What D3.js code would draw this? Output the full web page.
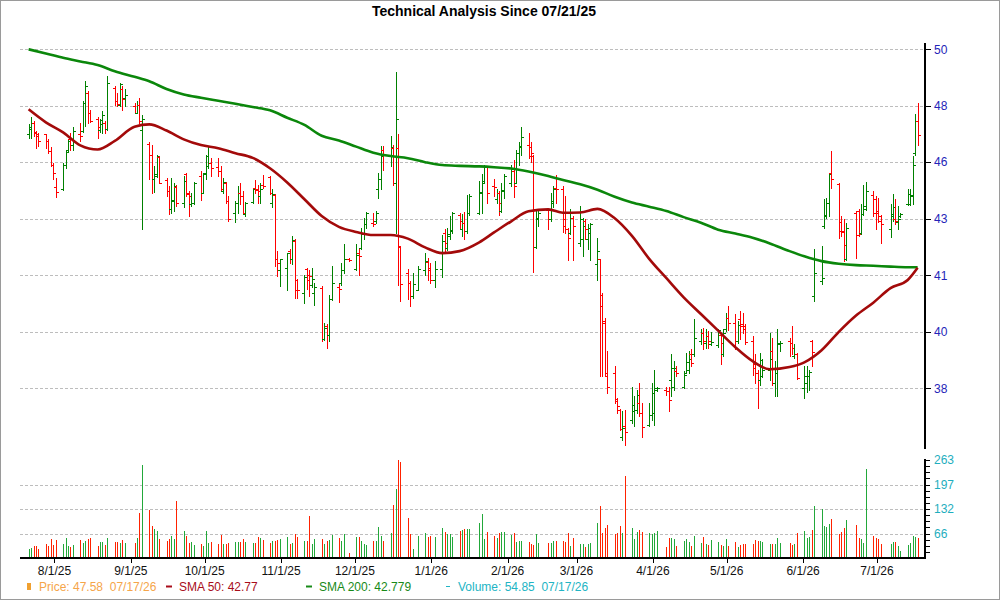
<!DOCTYPE html>
<html>
<head>
<meta charset="utf-8">
<script src="https://cdn.jsdelivr.net/npm/d3@7"></script>
<style>
  body { margin: 0; background: #fff; }
  text { font-family: "Liberation Sans", Arial, sans-serif; }
</style>
</head>
<body>
<svg id="chart" width="1000" height="600"></svg>
<script>
// trading calendar: weekdays between these dates, minus market holidays
var firstDay = "2025-07-21",
    lastDay = "2026-07-17";
var holidays = ["2025-09-01", "2025-11-27", "2025-12-25", "2026-01-01", "2026-01-19",
                "2026-02-16", "2026-04-03", "2026-05-25", "2026-06-19", "2026-07-03"];

// one line per week
var opens = [
  46.62, 46.79, 47.05, 46.69, 46.53,
  46.60, 46.34, 45.95, 45.43, 44.60,
  44.52, 45.43, 46.01, 46.40, 46.17,
  46.60, 46.73, 47.83, 48.23, 47.41,
  47.18, 46.76, 46.99, 47.05, 46.81,
  48.43, 47.90, 47.76, 48.37, 48.03,
  47.72, 47.44, 47.76, 46.76,
  46.24, 45.82, 44.88, 45.07, 45.72,
  44.86, 44.45, 43.78, 44.09, 44.61,
  44.03, 45.07, 44.39, 43.97, 44.03,
  45.00, 44.39, 45.13, 45.37, 45.49,
  45.33, 45.19, 44.45, 44.76, 44.09,
  43.66, 44.03, 44.39, 44.27, 43.60,
  44.06, 44.58, 44.52, 44.27, 44.66,
  44.98, 44.03, 44.30, 42.00, 41.64,
  41.70, 42.29, 42.00, 42.65, 41.29,
  40.85, 41.66, 41.46, 41.13, 40.85,
  41.01, 39.32, 39.74, 39.46, 40.65,
  41.05, 41.18, 41.64, 42.02,
  41.66, 42.23, 42.41, 42.94, 43.24,
  43.30, 43.36, 44.52, 44.88, 46.01,
  45.75, 46.07, 44.76, 46.07, 42.45,
  41.52, 41.20, 40.74, 40.96,
  41.64, 41.91, 41.70, 41.29,
  41.66, 42.94, 42.41, 42.88, 43.00,
  43.56, 43.06, 43.30, 43.00, 43.66,
  43.66, 44.39, 44.76, 45.37,
  44.64, 44.15, 44.37, 43.72, 44.45,
  44.76, 45.19, 44.76, 45.88, 46.14,
  46.17, 46.12, 45.75, 42.45, 43.42,
  43.76, 43.42, 44.03, 44.58,
  44.54, 43.42, 43.06, 42.94, 43.48,
  42.59, 42.71, 43.36, 42.71, 42.94,
  41.85, 42.00, 40.79, 39.85, 38.12,
  38.23, 37.40, 37.08, 36.26, 36.57,
  36.77, 37.03, 37.06, 37.28, 36.98,
  36.62, 36.92, 36.98, 37.69,
  37.69, 37.64, 38.01, 37.79, 38.28,
  37.79, 38.23, 38.33, 38.82, 38.82,
  39.25, 39.52, 39.19, 39.41, 39.14,
  39.11, 39.46, 38.82, 39.63, 40.02,
  39.85, 39.25, 39.98, 39.80, 39.63,
  39.25, 38.50, 38.23, 38.01, 38.14,
  38.33, 38.93, 37.90, 38.23, 39.14,
  39.25, 39.19, 38.76, 38.82,
  37.74, 37.90, 38.12, 39.25, 40.76,
  41.24, 43.18, 43.54, 44.03, 45.13,
  44.70, 43.32, 43.00, 42.00,
  43.66, 43.72, 42.94, 43.60, 43.78,
  44.30, 44.15, 43.72, 43.54,
  43.08, 43.54, 43.42, 43.32, 43.54,
  43.99, 43.97, 44.27, 45.86, 47.12
];
var highs = [
  46.99, 47.25, 47.12, 46.73, 46.66,
  46.62, 46.40, 46.12, 45.49, 44.94,
  45.49, 45.95, 46.43, 46.66, 46.86,
  47.05, 47.90, 48.70, 48.30, 47.53,
  47.28, 47.20, 47.50, 47.12, 48.90,
  48.50, 48.23, 48.63, 48.50, 48.37,
  47.83, 47.92, 48.03, 47.34,
  46.30, 46.20, 45.37, 45.82, 45.75,
  44.94, 44.64, 44.94, 44.76, 44.66,
  45.00, 45.13, 44.45, 44.39, 44.78,
  45.19, 45.13, 45.82, 46.14, 45.68,
  45.68, 45.37, 44.94, 44.78, 44.27,
  44.09, 44.64, 44.76, 44.45, 44.06,
  44.54, 44.85, 44.66, 44.76, 45.03,
  45.00, 44.54, 44.33, 42.29, 42.02,
  42.23, 42.37, 42.82, 42.71, 41.32,
  41.46, 41.70, 41.64, 41.70, 41.20,
  41.09, 39.85, 39.80, 40.79, 41.76,
  41.20, 41.88, 42.53, 42.05,
  42.53, 42.35, 43.12, 43.48, 43.69,
  43.64, 43.72, 45.13, 46.14, 46.14,
  46.53, 46.17, 49.08, 46.62, 42.47,
  41.66, 41.24, 41.52, 41.76,
  42.21, 42.05, 41.88, 41.94,
  42.85, 43.06, 43.12, 43.54, 43.69,
  43.66, 43.60, 43.69, 44.29, 44.33,
  44.82, 45.07, 45.43, 45.40,
  44.91, 44.52, 44.45, 44.76, 45.07,
  45.43, 45.62, 46.01, 46.30, 46.86,
  46.66, 46.30, 45.82, 43.78, 43.81,
  43.78, 44.39, 44.64, 45.03,
  44.64, 44.27, 43.12, 43.78, 43.54,
  43.91, 43.48, 43.42, 43.24, 43.30,
  42.76, 42.02, 40.85, 40.02, 38.93,
  38.44, 37.43, 37.10, 37.03, 37.08,
  37.79, 37.49, 37.69, 37.90, 37.28,
  37.28, 37.90, 38.33, 37.79,
  37.79, 37.79, 38.82, 38.60, 38.44,
  38.28, 38.87, 38.93, 38.98, 39.96,
  39.65, 39.69, 39.63, 39.58, 39.54,
  39.65, 39.52, 39.63, 40.18, 40.41,
  40.13, 39.91, 40.24, 40.18, 39.80,
  39.41, 38.82, 38.33, 38.87, 38.66,
  39.50, 39.36, 38.60, 39.63, 39.25,
  39.36, 39.74, 39.14, 38.87,
  38.46, 38.44, 38.33, 39.28, 42.37,
  42.47, 44.15, 44.21, 45.13, 45.95,
  44.74, 43.54, 43.42, 43.30,
  43.72, 43.78, 43.97, 44.66, 44.78,
  44.45, 44.27, 44.21, 43.56,
  43.97, 44.33, 44.17, 43.91, 43.66,
  44.54, 44.54, 45.75, 47.37, 47.83
];
var lows = [
  46.44, 46.44, 46.53, 46.07, 46.14,
  46.07, 45.88, 45.37, 44.88, 44.25,
  44.49, 45.31, 45.95, 45.98, 46.01,
  46.34, 46.70, 46.92, 47.05, 47.07,
  46.47, 46.69, 46.64, 46.64, 46.76,
  47.76, 47.72, 47.70, 47.54, 47.70,
  47.41, 47.41, 47.05, 43.06,
  44.88, 44.39, 44.42, 44.98, 44.74,
  44.27, 43.60, 43.66, 43.72, 43.91,
  43.85, 44.27, 43.54, 43.91, 43.97,
  44.13, 44.37, 44.91, 45.31, 45.00,
  45.00, 44.45, 44.37, 44.03, 43.36,
  43.32, 43.66, 43.97, 43.60, 43.54,
  44.00, 44.37, 44.00, 44.03, 44.58,
  44.33, 43.88, 41.76, 41.41, 41.07,
  40.96, 41.88, 41.85, 40.68, 40.68,
  40.52, 40.98, 40.76, 41.05, 40.44,
  39.25, 39.28, 39.03, 39.25, 40.61,
  40.54, 41.13, 41.52, 41.94,
  41.64, 41.46, 42.35, 42.71, 43.12,
  43.18, 43.30, 44.21, 44.54, 45.25,
  45.40, 44.67, 42.94, 41.13, 40.57,
  40.63, 40.41, 40.68, 40.94,
  41.46, 41.29, 41.20, 41.05,
  41.38, 42.23, 42.33, 42.71, 42.94,
  43.06, 42.82, 42.73, 42.94, 43.56,
  43.60, 43.66, 44.74, 44.03,
  44.27, 44.03, 43.57, 43.69, 44.18,
  44.64, 44.25, 44.74, 45.43, 45.82,
  45.68, 45.52, 41.58, 42.41, 43.18,
  43.08, 43.36, 43.85, 44.03,
  42.96, 42.94, 41.97, 42.88, 41.97,
  42.47, 42.11, 42.71, 42.35, 41.97,
  41.29, 38.12, 38.12, 38.12, 37.59,
  37.28, 36.98, 36.47, 36.16, 36.01,
  36.67, 36.57, 36.98, 36.87, 36.26,
  36.57, 36.77, 36.62, 37.64,
  37.54, 37.03, 37.49, 37.69, 38.12,
  37.74, 38.21, 38.23, 38.46, 38.76,
  39.14, 38.98, 39.03, 39.03, 39.11,
  39.06, 38.50, 38.76, 39.58, 39.61,
  38.98, 39.17, 39.30, 39.50, 39.14,
  38.17, 37.90, 37.13, 37.85, 38.10,
  38.01, 37.85, 37.49, 37.51, 38.93,
  38.76, 38.82, 38.71, 38.03,
  37.43, 37.61, 37.69, 38.46, 40.57,
  41.16, 43.12, 43.48, 43.54, 44.58,
  42.76, 42.82, 41.94, 41.97,
  42.05, 42.82, 42.88, 43.56, 43.76,
  43.54, 43.06, 43.32, 42.59,
  42.80, 43.36, 43.24, 43.06, 43.51,
  43.94, 43.93, 43.97, 45.82, 46.20
];
var closes = [
  46.86, 47.05, 46.66, 46.60, 46.34,
  46.34, 45.95, 45.43, 45.13, 44.43,
  45.43, 45.91, 46.34, 46.17, 46.73,
  46.53, 47.83, 48.50, 47.41, 47.12,
  46.86, 47.15, 47.33, 46.81, 48.61,
  47.90, 47.80, 48.59, 47.99, 48.13,
  47.44, 47.76, 47.12, 47.18,
  45.82, 44.88, 45.00, 45.75, 44.76,
  44.45, 43.78, 44.13, 44.64, 44.03,
  44.82, 44.33, 44.27, 44.03, 44.76,
  44.39, 45.10, 45.75, 45.49, 45.31,
  45.19, 44.52, 44.78, 44.09, 43.42,
  44.00, 44.37, 44.27, 43.66, 44.03,
  44.52, 44.49, 44.45, 44.52, 44.64,
  44.39, 44.33, 42.00, 41.88, 42.00,
  42.21, 42.00, 42.68, 40.96, 40.96,
  41.38, 41.29, 41.41, 41.32, 41.05,
  39.32, 39.69, 39.46, 40.65, 41.18,
  40.98, 41.64, 42.00, 41.97,
  42.17, 42.11, 42.88, 43.24, 43.64,
  43.26, 43.64, 44.88, 45.75, 45.82,
  46.12, 44.74, 47.20, 42.47, 41.16,
  41.20, 40.74, 41.16, 41.66,
  41.94, 41.64, 41.29, 41.66,
  42.65, 42.59, 42.82, 43.04, 43.66,
  43.36, 43.30, 43.00, 43.66, 44.27,
  44.42, 44.82, 45.37, 44.37,
  44.61, 44.37, 44.03, 44.49, 45.00,
  45.28, 44.64, 45.88, 46.12, 46.50,
  45.75, 45.88, 43.78, 43.48, 43.66,
  43.42, 44.07, 44.54, 44.54,
  43.18, 43.06, 42.76, 43.48, 43.18,
  43.42, 43.18, 43.06, 43.12, 43.24,
  42.29, 40.41, 39.91, 38.23, 37.79,
  37.33, 37.18, 36.49, 36.52, 36.41,
  37.23, 37.08, 37.54, 36.98, 36.55,
  36.92, 37.59, 37.74, 37.74,
  37.64, 37.38, 38.39, 38.39, 38.23,
  38.17, 38.57, 38.66, 38.53, 39.36,
  39.52, 39.25, 39.41, 39.25, 39.22,
  39.61, 39.17, 39.52, 40.02, 39.85,
  39.25, 39.76, 39.74, 39.74, 39.22,
  38.39, 38.23, 37.99, 38.63, 38.33,
  38.66, 37.90, 38.23, 39.17, 39.19,
  39.19, 39.03, 38.82, 38.06,
  38.12, 38.14, 38.25, 38.89, 41.52,
  41.35, 43.56, 44.03, 45.10, 44.88,
  43.00, 42.96, 42.49, 43.12,
  42.85, 42.88, 43.60, 43.91, 44.45,
  43.66, 43.66, 43.36, 43.27,
  43.60, 43.88, 43.36, 43.42, 43.60,
  44.33, 44.30, 45.43, 47.12, 46.56
];
var volumes = [
  24, 26, 33, 33, 24,
  38, 31, 50, 36, 47,
  38, 55, 33, 29, 35,
  47, 41, 45, 50, 55,
  33, 43, 43, 35, 55,
  43, 43, 41, 47, 41,
  41, 55, 121, 250,
  128, 86, 78, 72, 52,
  45, 52, 59, 52, 152,
  72, 59, 41, 43, 35,
  38, 33, 72, 41, 43,
  38, 62, 38, 38, 41,
  43, 43, 43, 50, 42,
  40, 40, 56, 54, 49,
  40, 45, 46, 47, 51,
  56, 38, 40, 64, 56,
  46, 46, 113, 38, 52,
  52, 38, 45, 49, 63,
  54, 46, 64, 13,
  56, 56, 45, 38, 36,
  46, 46, 83, 60, 45,
  67, 143, 186, 263, 257,
  107, 64, 24, 60,
  67, 56, 60, 56,
  80, 70, 64, 64, 56,
  73, 76, 79, 79, 78,
  94, 119, 52, 71,
  60, 55, 67, 70, 70,
  63, 67, 43, 46, 46,
  42, 38, 36, 64, 40,
  40, 40, 45, 46,
  46, 42, 67, 31, 54,
  38, 38, 29, 38, 40,
  94, 140, 67, 80, 88,
  64, 67, 85, 67, 221,
  80, 52, 69, 76, 70,
  67, 64, 67, 73,
  29, 54, 55, 51, 33,
  45, 52, 43, 31, 58,
  40, 56, 38, 34, 49,
  43, 34, 31, 52, 31,
  43, 29, 34, 38, 38,
  38, 49, 46, 45, 43,
  38, 38, 38, 54, 40,
  40, 36, 38, 67,
  73, 54, 56, 76, 140,
  131, 87, 82, 91, 104,
  64, 70, 80, 103,
  88, 54, 51, 40, 239,
  60, 54, 51, 38,
  38, 43, 43, 31, 18,
  36, 40, 58, 56, 54.85
];

// moving averages read at the first session of each week, plus the last session
var sma50 = [
  47.57, 47.06, 46.67, 46.17, 46.01, 46.34, 46.89, 46.98, 46.74, 46.40,
  46.18, 46.06, 45.87, 45.69, 45.30, 44.77, 44.15, 43.54, 43.15, 42.97,
  42.86, 42.86, 42.73, 42.42, 42.22, 42.29, 42.60, 42.95, 43.35, 43.71,
  43.78, 43.66, 43.67, 43.80, 43.46, 42.83, 42.02, 41.35, 40.70, 40.14,
  39.59, 39.05, 38.60, 38.34, 38.41, 38.56, 38.95, 39.55, 40.09, 40.52,
  41.01, 41.29, 41.71
];
var sma200 = [
  50.00, 49.83, 49.65, 49.50, 49.35, 49.10, 48.87, 48.69, 48.38, 48.16,
  48.03, 47.91, 47.79, 47.66, 47.53, 47.24, 46.96, 46.54, 46.36, 46.12,
  45.89, 45.76, 45.68, 45.53, 45.42, 45.39, 45.37, 45.34, 45.29, 45.18,
  45.01, 44.86, 44.70, 44.50, 44.24, 44.03, 43.88, 43.72, 43.50, 43.30,
  43.05, 42.91, 42.76, 42.56, 42.29, 42.11, 41.94, 41.85, 41.80, 41.78,
  41.75, 41.73, 41.73
];

var monthTicks = ["2025-08-01", "2025-09-01", "2025-10-01", "2025-11-01", "2025-12-01", "2026-01-01",
                  "2026-02-01", "2026-03-01", "2026-04-01", "2026-05-01", "2026-06-01", "2026-07-01"];
var priceTicks = [50, 47.71, 45.53, 43.44, 41.45, 39.55, 37.74];
var priceTickLabels = ["50", "48", "46", "43", "41", "40", "38"];
var volumeTicks = [65.75, 131.5, 197.25, 263];
var volumeTickLabels = ["66", "132", "197", "263"];

var title = "Technical Analysis Since 07/21/25";
var legendItems = [
  {label: "Price: 47.58  07/17/26", color: "#f5a54a", mark: "box", x: 27},
  {label: "SMA 50: 42.77", color: "#a80d1a", mark: "dash", x: 166},
  {label: "SMA 200: 42.779", color: "#188a18", mark: "dash", x: 306},
  {label: "Volume: 54.85  07/17/26", color: "#22b4c4", mark: "thin", x: 446}
];

var up = "#008000", down = "#ff0000",
    volUp = "#22a83a", volDown = "#ff2200";

var parse = d3.timeParse("%Y-%m-%d"),
    fmtDay = d3.timeFormat("%Y-%m-%d");

var days = d3.timeDay.range(parse(firstDay), d3.timeDay.offset(parse(lastDay), 1))
    .filter(function(d) {
      return d.getDay() > 0 && d.getDay() < 6 && holidays.indexOf(fmtDay(d)) < 0;
    });

var bars = days.map(function(d, i) {
  return {date: d3.timeHour.offset(d, 12), o: opens[i], h: highs[i], l: lows[i], c: closes[i], v: volumes[i]};
}).filter(function(d) { return d.o != null; });

// first session of every week, and the last one
var smaDates = bars.filter(function(d, i) {
  return i === 0 || d.date.getDay() < bars[i - 1].date.getDay();
}).map(function(d) { return d.date; });
smaDates.push(bars[bars.length - 1].date);

var left = 20, right = 925;

var x = d3.scaleTime()
    .domain([parse("2025-07-18"), new Date(2026, 6, 20, 12)])
    .range([left, right]);

var y = d3.scaleLog()
    .domain([50, 37.74])
    .range([49.3, 388.3]);

var yv = d3.scaleLinear()
    .domain([0, 263])
    .range([558, 460]);

var svg = d3.select("#chart");

svg.append("rect")
    .attr("x", 0.5).attr("y", 0.5)
    .attr("width", 999).attr("height", 599)
    .attr("fill", "#fff")
    .attr("stroke", "#9a9a9a");

svg.append("text")
    .attr("x", 484).attr("y", 16)
    .attr("text-anchor", "middle")
    .style("font-size", "14px")
    .style("font-weight", "bold")
    .text(title);

// grid
var grid = svg.append("g")
    .attr("stroke", "#bdbdbd")
    .attr("stroke-dasharray", "3,2")
    .attr("shape-rendering", "crispEdges");

grid.selectAll("line.pg").data(priceTicks).enter().append("line")
    .attr("class", "pg")
    .attr("x1", left).attr("x2", right)
    .attr("y1", function(d) { return Math.round(y(d)) + 0.5; })
    .attr("y2", function(d) { return Math.round(y(d)) + 0.5; });

grid.selectAll("line.vg").data(volumeTicks.slice(0, 3)).enter().append("line")
    .attr("class", "vg")
    .attr("x1", left).attr("x2", right)
    .attr("y1", function(d) { return Math.round(yv(d)) + 0.5; })
    .attr("y2", function(d) { return Math.round(yv(d)) + 0.5; });

function px(d) { return Math.round(x(d.date)) + 0.5; }
function color(d) { return d.c >= d.o ? up : down; }

// volume
svg.append("g")
    .attr("shape-rendering", "crispEdges")
  .selectAll("line").data(bars).enter().append("line")
    .attr("x1", px).attr("x2", px)
    .attr("y1", yv(0))
    .attr("y2", function(d) { return yv(d.v); })
    .attr("stroke", function(d) { return d.c >= d.o ? volUp : volDown; })
    .attr("stroke-width", 1);

// OHLC bars
var bar = svg.append("g")
    .attr("shape-rendering", "crispEdges")
  .selectAll("g").data(bars).enter().append("g")
    .attr("stroke", color);

bar.append("line")
    .attr("x1", px).attr("x2", px)
    .attr("y1", function(d) { return y(d.h); })
    .attr("y2", function(d) { return y(d.l) + 1; });

bar.append("line")
    .attr("x1", function(d) { return px(d) - 2.5; })
    .attr("x2", px)
    .attr("y1", function(d) { return Math.round(y(d.o)) + 0.5; })
    .attr("y2", function(d) { return Math.round(y(d.o)) + 0.5; });

bar.append("line")
    .attr("x1", px)
    .attr("x2", function(d) { return px(d) + 2.5; })
    .attr("y1", function(d) { return Math.round(y(d.c)) + 0.5; })
    .attr("y2", function(d) { return Math.round(y(d.c)) + 0.5; });

// moving averages
var line = d3.line()
    .x(function(d, i) { return x(smaDates[i]); })
    .y(function(d) { return y(d); })
    .curve(d3.curveMonotoneX);

svg.append("path")
    .datum(sma200)
    .attr("d", line)
    .attr("fill", "none")
    .attr("stroke", "#0b870b")
    .attr("stroke-width", 2.6);

svg.append("path")
    .datum(sma50)
    .attr("d", line)
    .attr("fill", "none")
    .attr("stroke", "#a30a0a")
    .attr("stroke-width", 2.6);

// right axes
var axes = svg.append("g")
    .attr("shape-rendering", "crispEdges");

axes.append("line")
    .attr("x1", right).attr("x2", right)
    .attr("y1", 43).attr("y2", 449)
    .attr("stroke", "#000").attr("stroke-width", 2);

axes.selectAll("line.pt").data(priceTicks).enter().append("line")
    .attr("class", "pt")
    .attr("x1", right).attr("x2", right + 6)
    .attr("y1", function(d) { return Math.round(y(d)) + 0.5; })
    .attr("y2", function(d) { return Math.round(y(d)) + 0.5; })
    .attr("stroke", "#000");

svg.selectAll("text.pl").data(priceTicks).enter().append("text")
    .attr("class", "pl")
    .attr("x", right + 9)
    .attr("y", function(d) { return y(d); })
    .attr("dy", "0.35em")
    .attr("fill", "#2424b8")
    .style("font-size", "12px")
    .text(function(d, i) { return priceTickLabels[i]; });

axes.append("line")
    .attr("x1", right).attr("x2", right)
    .attr("y1", 459).attr("y2", 559)
    .attr("stroke", "#000").attr("stroke-width", 2);

axes.selectAll("line.vt").data(d3.range(1, 17)).enter().append("line")
    .attr("class", "vt")
    .attr("x1", right).attr("x2", right + 5)
    .attr("y1", function(d) { return Math.round(yv(d * 263 / 16)) + 0.5; })
    .attr("y2", function(d) { return Math.round(yv(d * 263 / 16)) + 0.5; })
    .attr("stroke", "#000");

svg.selectAll("text.vl").data(volumeTicks).enter().append("text")
    .attr("class", "vl")
    .attr("x", right + 9)
    .attr("y", function(d) { return yv(d); })
    .attr("dy", "0.35em")
    .attr("fill", "#1eaebe")
    .style("font-size", "12px")
    .text(function(d, i) { return volumeTickLabels[i]; });

// bottom time axis
axes.append("line")
    .attr("x1", left).attr("x2", right + 1)
    .attr("y1", 558).attr("y2", 558)
    .attr("stroke", "#000").attr("stroke-width", 2);

var monthDates = monthTicks.map(parse);

axes.selectAll("line.mt").data(monthDates).enter().append("line")
    .attr("class", "mt")
    .attr("x1", function(d) { return Math.round(x(d)) + 0.5; })
    .attr("x2", function(d) { return Math.round(x(d)) + 0.5; })
    .attr("y1", 559).attr("y2", 563)
    .attr("stroke", "#000");

svg.selectAll("text.ml").data(monthDates).enter().append("text")
    .attr("class", "ml")
    .attr("x", function(d) { return x(d); })
    .attr("y", 575)
    .attr("text-anchor", "middle")
    .attr("fill", "#111")
    .style("font-size", "12px")
    .text(d3.timeFormat("%-m/%-d/%y"));

// legend
var legend = svg.selectAll("g.legend").data(legendItems).enter().append("g")
    .attr("class", "legend")
    .attr("transform", function(d) { return "translate(" + d.x + ",0)"; });

legend.filter(function(d) { return d.mark === "box"; }).append("rect")
    .attr("x", 0).attr("y", 583)
    .attr("width", 4).attr("height", 7)
    .attr("fill", "#f0a030");

legend.filter(function(d) { return d.mark !== "box"; }).append("line")
    .attr("x1", 0).attr("x2", function(d) { return d.mark === "thin" ? 4 : 6; })
    .attr("y1", 586.5).attr("y2", 586.5)
    .attr("stroke", function(d) { return d.color; })
    .attr("stroke-width", function(d) { return d.mark === "thin" ? 1 : 2; });

legend.append("text")
    .attr("x", function(d) { return d.mark === "box" ? 12 : (d.mark === "thin" ? 12 : 13); })
    .attr("y", 591)
    .attr("fill", function(d) { return d.color; })
    .style("font-size", "12px")
    .style("white-space", "pre")
    .text(function(d) { return d.label; });
</script>
</body>
</html>
